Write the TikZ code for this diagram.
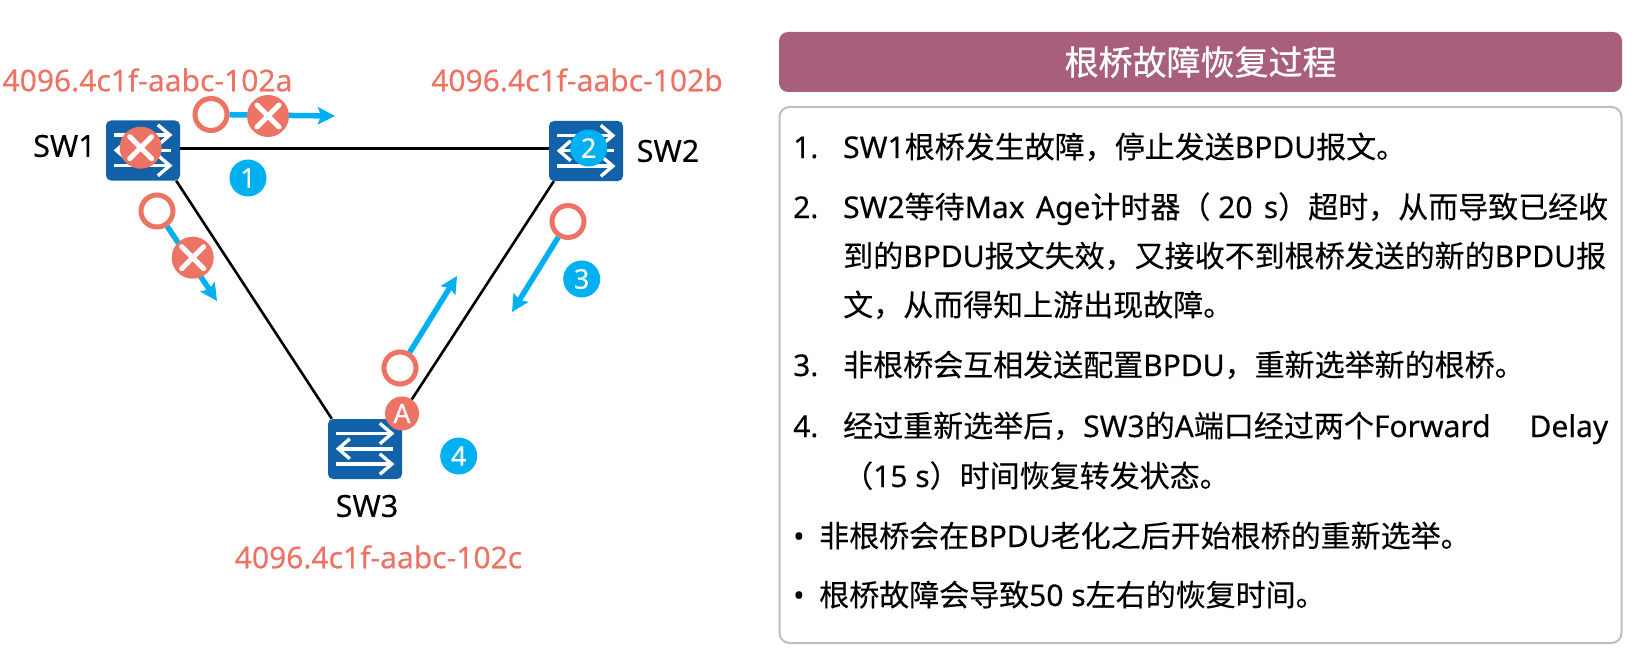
\documentclass[tikz,border=0pt]{standalone}
\usepackage{fontspec}
\setmainfont[FakeBold=0.25]{Noto Sans}
\newfontfamily\cjk[FakeBold=0.25]{Noto Sans CJK SC}
\newfontfamily\cjktitle[FakeBold=0.7]{Noto Sans CJK SC}
\newcommand{\zh}[1]{{\cjk #1}}
\usetikzlibrary{arrows.meta,calc}
\definecolor{salmon}{HTML}{ED7364}
\definecolor{skyb}{HTML}{00B0F0}
\definecolor{swblue}{HTML}{1261A9}
\definecolor{plum}{HTML}{A85F7C}
\definecolor{panelgray}{HTML}{BFBFBF}
\tikzset{
  swbox/.style={fill=swblue,rounded corners=5pt,minimum width=74pt,minimum height=60pt,inner sep=0pt},
  wire/.style={line width=2.6pt,black},
  flow/.style={line width=5.5pt,skyb,-{Stealth[length=17pt,width=17pt,inset=3pt]}},
  ring/.style={circle,draw=salmon,line width=5pt,fill=white,minimum size=32pt,inner sep=0pt},
  xmark/.style={circle,fill=salmon,minimum size=42pt,inner sep=0pt,
    path picture={\draw[white,line width=5pt,line cap=round]
      ($(path picture bounding box.center)+(-11,-11)$)--($(path picture bounding box.center)+(11,11)$)
      ($(path picture bounding box.center)+(-11,11)$)--($(path picture bounding box.center)+(11,-11)$);}},
  stepdot/.style={circle,fill=skyb,minimum size=37pt,inner sep=0pt,text=white,font=\fontsize{27}{27}\selectfont},
  portA/.style={circle,fill=salmon,minimum size=34pt,inner sep=0pt,text=white,font=\fontsize{27}{27}\selectfont},
  addr/.style={text=salmon,font=\fontsize{30}{32}\selectfont,inner sep=0pt},
  swname/.style={text=black,font=\fontsize{30.5}{32}\selectfont,inner sep=0pt},
  body/.style={anchor=base west,inner sep=0pt,text=black,font=\fontsize{30}{32}\selectfont},
}
\newcommand{\swarrows}[1]{%
  \begin{scope}[shift={(#1.north west)},white,line width=3.4pt]
    \draw (8.5,14.7)--(64,14.7);
    \draw (52,4.5)--(64,14.7)--(52,25);
    \draw (65,30)--(11,30);
    \draw (22,20)--(10.5,30)--(22,40);
    \draw (8.5,45.3)--(64,45.3);
    \draw (52,35)--(64,45.3)--(52,55.5);
  \end{scope}}
\begin{document}
\begin{tikzpicture}[x=1pt,y=-1pt]
\useasboundingbox (0,0) rectangle (1644,658);
% switches
\node[swbox] (sw1) at (143,150.5) {};
\node[swbox] (sw2) at (586,151) {};
\node[swbox] (sw3) at (365,449) {};
\swarrows{sw1}\swarrows{sw2}\swarrows{sw3}
% links
\draw[wire] ($(sw1.east)+(0,-2)$) -- ($(sw2.west)+(0,-2.5)$);
\draw[wire] ($(sw1.south east)+(-4,0)$) -- ($(sw3.north west)+(4,0)$);
\draw[wire] ($(sw2.south west)+(5,0)$) -- ($(sw3.north east)+(-3,0)$);
% labels
\node[addr] (a1) at (147.5,80) {4096.4c1f-aabc-102a};
\node[addr] (a2) at (577,80) {4096.4c1f-aabc-102b};
\node[addr] (a3) at (378.5,557) {4096.4c1f-aabc-102c};
\node[swname] (n1) at (64.5,146) {SW1};
\node[swname] (n2) at (668,151) {SW2};
\node[swname] (n3) at (367,506) {SW3};
% flows
\coordinate (t1) at (335,116);
\coordinate (t2) at (217,301);
\coordinate (t3) at (512,312);
\coordinate (t4) at (457,276);
\node[ring] (r1) at (211,114.5) {};
\node[ring] (r2) at (157,211) {};
\node[ring] (r3) at (568,221.5) {};
\node[ring] (r4) at (400,368) {};
\draw[flow] (r1) -- (t1);
\draw[flow] (r2) -- (t2);
\draw[flow] (r3) -- (t3);
\draw[flow] (r4) -- (t4);
\node[xmark] (x1) at (268,116) {};
\node[xmark] (x2) at (192.7,257.7) {};
\node[xmark] (x3) at (140.7,147.7) {};
\node[portA] (pa) at (402,413.5) {A};
\node[stepdot] (s1) at (248,178) {1};
\node[stepdot] (s2) at (588.7,148) {2};
\node[stepdot] (s3) at (581.7,279) {3};
\node[stepdot] (s4) at (458.7,456) {4};
% panel
\node[fill=plum,rounded corners=9pt,minimum width=843pt,minimum height=60pt,inner sep=0pt,text=white,font=\fontsize{34}{36}\selectfont\cjktitle] (title) at (1200.5,62) {根桥故障恢复过程};
\node[draw=panelgray,line width=2pt,rounded corners=10pt,minimum width=842pt,minimum height=536pt,inner sep=0pt] (panel) at (1200.5,375) {};
% text
\node[body] (i1) at (793,158) {1.};
\node[body] (l1) at (843,158) {SW1\zh{根桥发生故障，停止发送}BPDU\zh{报文。}};
\node[body] (i2) at (793,218) {2.};
\node[body] (l2) at (843,218) {\makebox[765pt][s]{SW2\zh{等待}Max\hfil\ Age\zh{计时器（} 20\hfil\ s\zh{）超时，从而导致已经收}}};
\node[body] (l2b) at (843,267) {\makebox[765pt][s]{\zh{到的}BPDU\zh{报文失效，又接收不到根桥发送的新的}BPDU\zh{报}}};
\node[body] (l2c) at (843,316) {\zh{文，从而得知上游出现故障。}};
\node[body] (i3) at (793,376) {3.};
\node[body] (l3) at (843,376) {\zh{非根桥会互相发送配置}BPDU\zh{，重新选举新的根桥。}};
\node[body] (i4) at (793,437) {4.};
\node[body] (l4) at (843,437) {\makebox[765pt][s]{\zh{经过重新选举后，}SW3\zh{的}A\zh{端口经过两个}Forward\hfil\ Delay}};
\node[body] (l4b) at (843,487) {\zh{（}15 s\zh{）时间恢复转发状态。}};
\node[body] (b1) at (793,547) {•};
\node[body] (l5) at (819,547) {\zh{非根桥会在}BPDU\zh{老化之后开始根桥的重新选举。}};
\node[body] (b2) at (793,606) {•};
\node[body] (l6) at (819,606) {\zh{根桥故障会导致}50 s\zh{左右的恢复时间。}};
\end{tikzpicture}
\end{document}
